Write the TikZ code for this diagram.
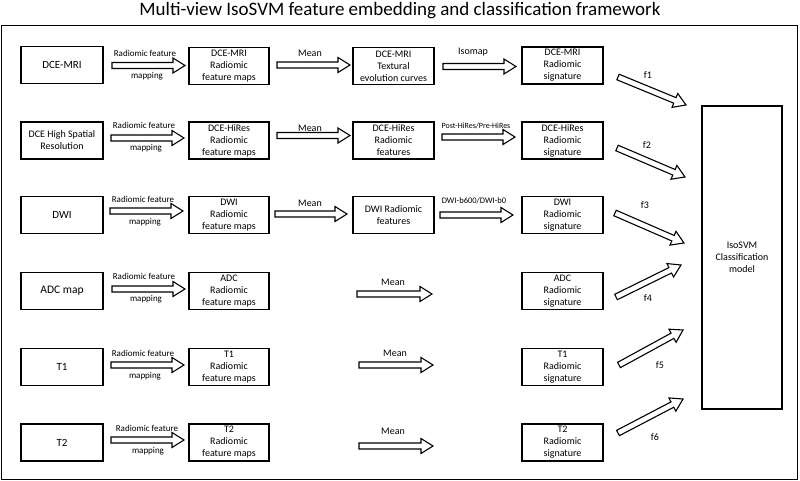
\documentclass[tikz,border=0pt]{standalone}
\usepackage{fontspec}
\setmainfont{Carlito}
\usetikzlibrary{calc}
\tikzset{
  box/.style={draw, line width=1.2pt, minimum height=37pt, inner sep=0pt, align=center, font=\fontsize{10}{12}\selectfont},
  boxa/.style={box, minimum width=82pt},
  boxb/.style={box, minimum width=80pt},
  boxc/.style={box, minimum width=81pt},
  barrow/.style={draw, line width=1.1pt, fill=white, line join=miter},
  lbl/.style={font=\fontsize{9}{10}\selectfont, inner sep=0pt},
  mlbl/.style={font=\fontsize{10}{11}\selectfont, inner sep=0pt},
  slbl/.style={font=\fontsize{8}{9}\selectfont, inner sep=0pt},
}
\newcommand\blockarr[2]{%
  \coordinate (#1-h) at ($(#2)!12pt!(#1)$);
  \draw[barrow] ($(#1)!3pt!90:(#2)$) -- ($(#1-h)!3pt!90:(#2)$) -- ($(#1-h)!7.5pt!90:(#2)$) -- (#2)
     -- ($(#1-h)!7.5pt!-90:(#2)$) -- ($(#1-h)!3pt!-90:(#2)$) -- ($(#1)!3pt!-90:(#2)$) -- cycle;
}
\begin{document}
\begin{tikzpicture}[x=1pt,y=-1pt]
\useasboundingbox (0,0) rectangle (800,481);
% title and frame
\node[font=\fontsize{19}{21}\selectfont, inner sep=0pt] (title) at (400,11) {Multi-view IsoSVM feature embedding and classification framework};
\draw[line width=1pt] (1.5,25.5) rectangle (797.5,479.5);

% column 1
\node[boxa, font=\fontsize{11}{13}\selectfont] (a1) at (62,65) {DCE-MRI};
\node[boxa] (a2) at (62,140.5) {DCE High Spatial\\Resolution};
\node[boxa, font=\fontsize{11}{13}\selectfont] (a3) at (62,215) {DWI};
\node[boxa, font=\fontsize{11.5}{13}\selectfont] (a4) at (62,291) {ADC map};
\node[boxa, font=\fontsize{11}{13}\selectfont] (a5) at (62,367) {T1};
\node[boxa, font=\fontsize{11}{13}\selectfont] (a6) at (62,442.5) {T2};

% column 2
\node[boxb] (b1) at (229,66) {DCE-MRI\\Radiomic\\feature maps};
\node[boxb] (b2) at (229,140.5) {DCE-HiRes\\Radiomic\\feature maps};
\node[boxb] (b3) at (229,215) {DWI\\Radiomic\\feature maps};
\node[boxb] (b4) at (229,291) {ADC\\Radiomic\\feature maps};
\node[boxb] (b5) at (229,367) {T1\\Radiomic\\feature maps};
\node[boxb] (b6) at (229,442.5) {T2\\Radiomic\\feature maps};

% column 3
\node[boxc] (c1) at (393.5,66) {DCE-MRI\\Textural\\evolution curves};
\node[boxc] (c2) at (393.5,140.5) {DCE-HiRes\\Radiomic\\features};
\node[boxc] (c3) at (393.5,215) {DWI Radiomic\\features};

% column 4
\node[boxc] (d1) at (562.5,65.5) {DCE-MRI\\Radiomic\\signature};
\node[boxc] (d2) at (562.5,140.5) {DCE-HiRes\\Radiomic\\signature};
\node[boxc] (d3) at (562.5,215) {DWI\\Radiomic\\signature};
\node[boxc] (d4) at (562.5,291) {ADC\\Radiomic\\signature};
\node[boxc] (d5) at (562.5,367) {T1\\Radiomic\\signature};
\node[boxc] (d6) at (562.5,442.5) {T2\\Radiomic\\signature};

% classifier
\node[box, minimum width=80pt, minimum height=303pt] (clf) at (742,257.5) {IsoSVM\\Classification\\model};

% radiomic feature mapping arrows
\coordinate (r1s) at (112,65.5);  \coordinate (r1e) at (185,65.5);
\coordinate (r2s) at (111,138);   \coordinate (r2e) at (184,138);
\coordinate (r3s) at (110,211);   \coordinate (r3e) at (183,211);
\coordinate (r4s) at (112,289);   \coordinate (r4e) at (185,289);
\coordinate (r5s) at (111,365);   \coordinate (r5e) at (184,365);
\coordinate (r6s) at (111,440);   \coordinate (r6e) at (184,440);
\foreach \i in {1,...,6} {\blockarr{r\i s}{r\i e}}
\node[lbl] (rl1) at (145,53) {Radiomic feature};   \node[lbl] (rm1) at (147,76) {mapping};
\node[lbl] (rl2) at (144,125) {Radiomic feature};  \node[lbl] (rm2) at (146,148) {mapping};
\node[lbl] (rl3) at (143,199) {Radiomic feature};  \node[lbl] (rm3) at (145,222) {mapping};
\node[lbl] (rl4) at (144,276) {Radiomic feature};  \node[lbl] (rm4) at (146,299) {mapping};
\node[lbl] (rl5) at (143,353) {Radiomic feature};  \node[lbl] (rm5) at (145,376) {mapping};
\node[lbl] (rl6) at (147,428) {Radiomic feature};  \node[lbl] (rm6) at (148,451) {mapping};

% mean arrows
\coordinate (m1s) at (277,65);    \coordinate (m1e) at (350,65);
\coordinate (m2s) at (277,135.5); \coordinate (m2e) at (350,135.5);
\coordinate (m3s) at (275,214);   \coordinate (m3e) at (347,214);
\coordinate (m4s) at (357,294);   \coordinate (m4e) at (432,294);
\coordinate (m5s) at (359,365);   \coordinate (m5e) at (433,365);
\coordinate (m6s) at (359,446);   \coordinate (m6e) at (433,446);
\foreach \i in {1,...,6} {\blockarr{m\i s}{m\i e}}
\node[mlbl] (ml1) at (310,53) {Mean};
\node[mlbl] (ml2) at (310,128) {Mean};
\node[mlbl] (ml3) at (310,203) {Mean};
\node[mlbl] (ml4) at (393,282) {Mean};
\node[mlbl] (ml5) at (395,353) {Mean};
\node[mlbl] (ml6) at (393,431) {Mean};

% third-stage arrows
\coordinate (i1s) at (443,66.5);  \coordinate (i1e) at (516,66.5);
\coordinate (i2s) at (442,137);   \coordinate (i2e) at (515,137);
\coordinate (i3s) at (440,215);   \coordinate (i3e) at (513,215);
\foreach \i in {1,2,3} {\blockarr{i\i s}{i\i e}}
\node[mlbl] (il1) at (473,52) {Isomap};
\node[slbl] (il2) at (476,126) {Post-HiRes/Pre-HiRes};
\node[font=\fontsize{8.5}{9}\selectfont, inner sep=0pt] (il3) at (474,201) {DWI-b600/DWI-b0};

% feature arrows to classifier
\coordinate (f1s) at (618,77);  \coordinate (f1e) at (686,105);
\coordinate (f2s) at (617,148); \coordinate (f2e) at (685,177);
\coordinate (f3s) at (615,213); \coordinate (f3e) at (684,243);
\coordinate (f4s) at (616,297); \coordinate (f4e) at (681,265);
\coordinate (f5s) at (619,365); \coordinate (f5e) at (683,330);
\coordinate (f6s) at (618,433); \coordinate (f6e) at (683,399);
\foreach \i in {1,...,6} {\blockarr{f\i s}{f\i e}}
\node[mlbl] (fl1) at (648,75) {f1};
\node[mlbl] (fl2) at (647,145) {f2};
\node[mlbl] (fl3) at (645,205) {f3};
\node[mlbl] (fl4) at (648,298) {f4};
\node[mlbl] (fl5) at (660,365) {f5};
\node[mlbl] (fl6) at (655,437) {f6};
\end{tikzpicture}
\end{document}
